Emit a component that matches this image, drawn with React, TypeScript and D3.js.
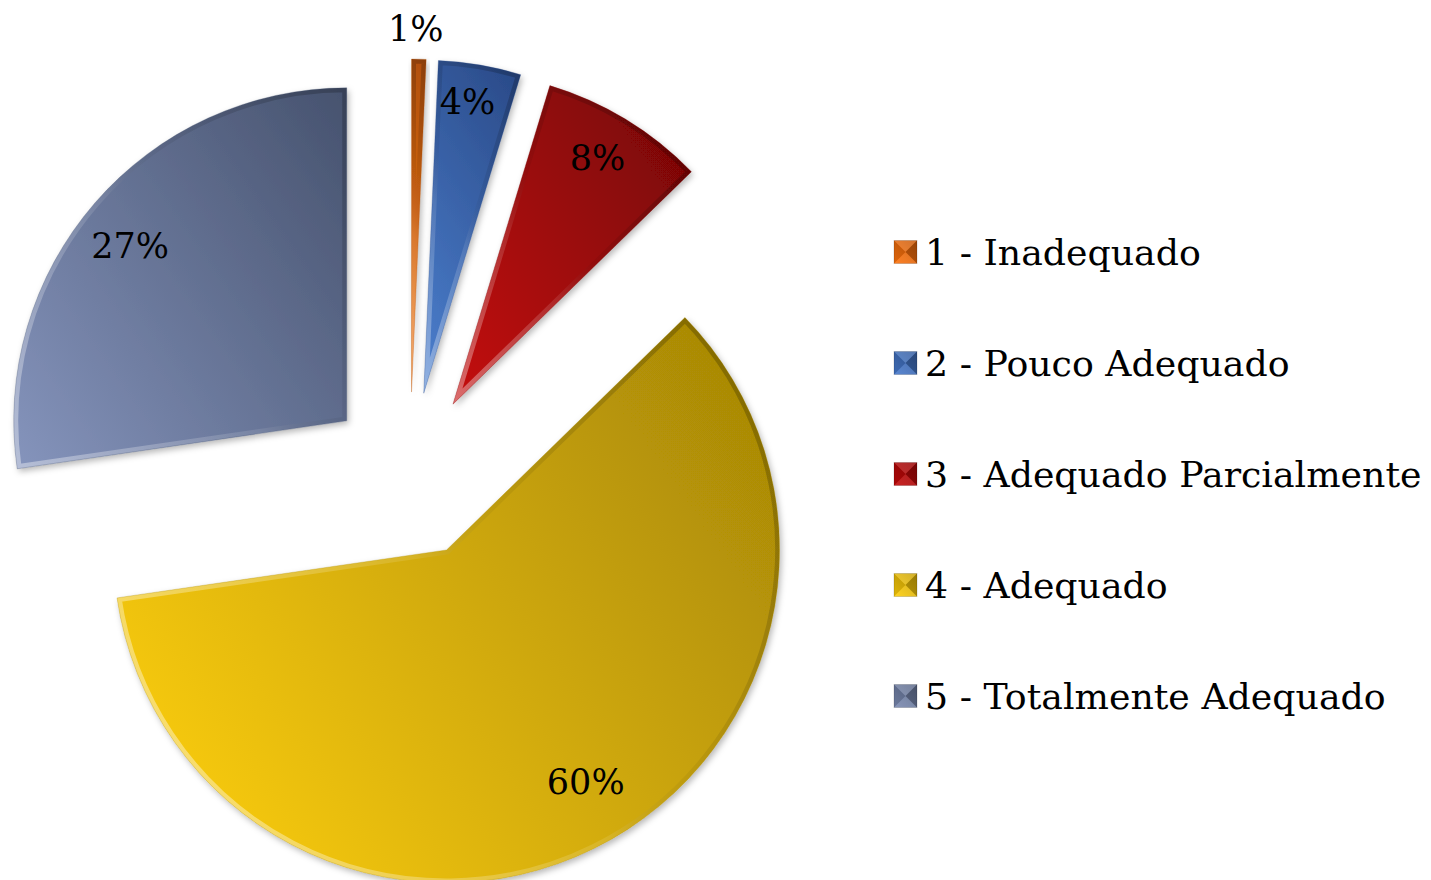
import React from 'react';
import * as d3 from 'd3';

// ---------- data ----------
const categories = [
  '1 - Inadequado',
  '2 - Pouco Adequado',
  '3 - Adequado Parcialmente',
  '4 - Adequado',
  '5 - Totalmente Adequado',
];
const percentValues = [0.7, 4.0, 8.0, 60.0, 27.3];

// ---------- styles ----------
const lightColors = ['#F27E1E', '#4C80CF', '#C41010', '#F4C70C', '#8594BC'];
const darkColors = ['#B04E0A', '#2A4A88', '#7E0606', '#AA8A06', '#46526E'];
const legendColors = ['#E8680C', '#3F6DB8', '#B00808', '#E8BA08', '#6E7CA0'];

// label placement (polar, relative to each exploded slice)
const labelRadiusFrac = [1.092, 0.887, 0.86, 0.812, 0.838];
const labelAngleShiftDeg = [-0.6, -1.2, -1.0, -4.7, -1.8];

const W = 1431;
const H = 880;
const CX = 409.7;
const CY = 475.3;
const R = 333;
const EXPLODE = 0.25 * R;
const FONT = '"DejaVu Serif", "Liberation Serif", serif';
const FS = 35;
const LEGEND_FS = 36.3;
const LIGHT_ANGLE = (35 * Math.PI) / 180;

export default function App() {
  const pie = d3
    .pie<number>()
    .sort(null)
    .startAngle(0)
    .endAngle(2 * Math.PI)
    .value((d) => d);
  const arcs = pie(percentValues);
  const arcGen = d3.arc<d3.PieArcDatum<number>>().innerRadius(0).outerRadius(R);
  const total = d3.sum(percentValues);

  const dx = Math.cos(LIGHT_ANGLE);
  const dy = -Math.sin(LIGHT_ANGLE);

  const slices = arcs.map((a, i) => {
    const mid = (a.startAngle + a.endAngle) / 2;
    const ox = Math.sin(mid) * EXPLODE;
    const oy = -Math.cos(mid) * EXPLODE;
    const pts: [number, number][] = [[0, 0]];
    const n = 40;
    for (let k = 0; k <= n; k++) {
      const t = a.startAngle + ((a.endAngle - a.startAngle) * k) / n;
      pts.push([R * Math.sin(t), -R * Math.cos(t)]);
    }
    const proj = pts.map(([x, y]) => x * dx + y * dy);
    const pmin = d3.min(proj) as number;
    const pmax = d3.max(proj) as number;
    const la = mid + (labelAngleShiftDeg[i] * Math.PI) / 180;
    const lr = labelRadiusFrac[i] * R;
    return {
      a,
      i,
      ox,
      oy,
      path: arcGen(a) as string,
      g: { x1: pmin * dx, y1: pmin * dy, x2: pmax * dx, y2: pmax * dy },
      lx: Math.sin(la) * lr,
      ly: -Math.cos(la) * lr,
      label: Math.round((percentValues[i] / total) * 100) + '%',
    };
  });

  const legendX = 894;
  const legendY0 = 252;
  const legendStep = 111;
  const box = 23;

  return (
    <svg
      width={W}
      height={H}
      viewBox={`0 0 ${W} ${H}`}
      style={{ position: 'absolute', left: 0, top: 0, display: 'block', background: '#fff' }}
    >
      <defs>
        <filter id="shadow" x="-20%" y="-20%" width="140%" height="140%">
          <feDropShadow dx="2" dy="3" stdDeviation="3" floodColor="#000" floodOpacity="0.28" />
        </filter>
        {slices.map((s) => (
          <React.Fragment key={s.i}>
            <linearGradient
              id={`fill-${s.i}`}
              gradientUnits="userSpaceOnUse"
              x1={s.g.x1}
              y1={s.g.y1}
              x2={s.g.x2}
              y2={s.g.y2}
            >
              <stop offset="0" stopColor={lightColors[s.i]} />
              <stop offset="1" stopColor={darkColors[s.i]} />
            </linearGradient>
            <linearGradient
              id={`bevel-${s.i}`}
              gradientUnits="userSpaceOnUse"
              x1={s.g.x1}
              y1={s.g.y1}
              x2={s.g.x2}
              y2={s.g.y2}
            >
              <stop offset="0" stopColor="#fff" stopOpacity="0.4" />
              <stop offset="0.45" stopColor="#fff" stopOpacity="0.1" />
              <stop offset="0.6" stopColor="#000" stopOpacity="0.05" />
              <stop offset="1" stopColor="#000" stopOpacity="0.22" />
            </linearGradient>
            <clipPath id={`clip-${s.i}`}>
              <path d={s.path} />
            </clipPath>
          </React.Fragment>
        ))}
        {legendColors.map((c, i) => (
          <linearGradient key={i} id={`lg-${i}`} x1="0" y1="1" x2="1" y2="0">
            <stop offset="0" stopColor={d3.color(c)!.brighter(0.3).formatHex()} />
            <stop offset="1" stopColor={d3.color(c)!.darker(0.4).formatHex()} />
          </linearGradient>
        ))}
      </defs>

      <g transform={`translate(${CX},${CY})`}>
        {slices.map((s) => (
          <g key={s.i} transform={`translate(${s.ox},${s.oy})`}>
            <path d={s.path} fill={`url(#fill-${s.i})`} filter="url(#shadow)" />
            <path
              d={s.path}
              fill="none"
              stroke={`url(#bevel-${s.i})`}
              strokeWidth={9}
              strokeLinejoin="miter"
              clipPath={`url(#clip-${s.i})`}
            />
            <path
              d={s.path}
              fill="none"
              stroke={darkColors[s.i]}
              strokeOpacity={0.28}
              strokeWidth={1}
            />
          </g>
        ))}
        {slices.map((s) => (
          <text
            key={`l${s.i}`}
            x={s.ox + s.lx}
            y={s.oy + s.ly + 0.36 * FS}
            textAnchor="middle"
            fontFamily={FONT}
            fontSize={FS}
            fill="#000"
          >
            {s.label}
          </text>
        ))}
      </g>

      <g>
        {categories.map((c, i) => {
          const cy = legendY0 + i * legendStep;
          const x0 = legendX;
          const y0 = cy - box / 2;
          const x1 = x0 + box;
          const y1 = y0 + box;
          const mx = x0 + box / 2;
          const my = cy;
          return (
            <g key={c}>
              <rect x={x0} y={y0} width={box} height={box} fill={`url(#lg-${i})`} />
              <polygon points={`${x0},${y0} ${x1},${y0} ${mx},${my}`} fill="#fff" fillOpacity={0.15} />
              <polygon points={`${x0},${y0} ${x0},${y1} ${mx},${my}`} fill="#000" fillOpacity={0.12} />
              <polygon points={`${x1},${y0} ${x1},${y1} ${mx},${my}`} fill="#000" fillOpacity={0.25} />
              <polygon points={`${x0},${y1} ${x1},${y1} ${mx},${my}`} fill="#fff" fillOpacity={0.1} />
              <rect x={x0} y={y0} width={box} height={box} fill="none" stroke="#000" strokeOpacity={0.15} />
              <text
                x={925}
                y={cy + 0.36 * LEGEND_FS}
                fontFamily={FONT}
                fontSize={LEGEND_FS}
                fill="#000"
              >
                {c}
              </text>
            </g>
          );
        })}
      </g>
    </svg>
  );
}
